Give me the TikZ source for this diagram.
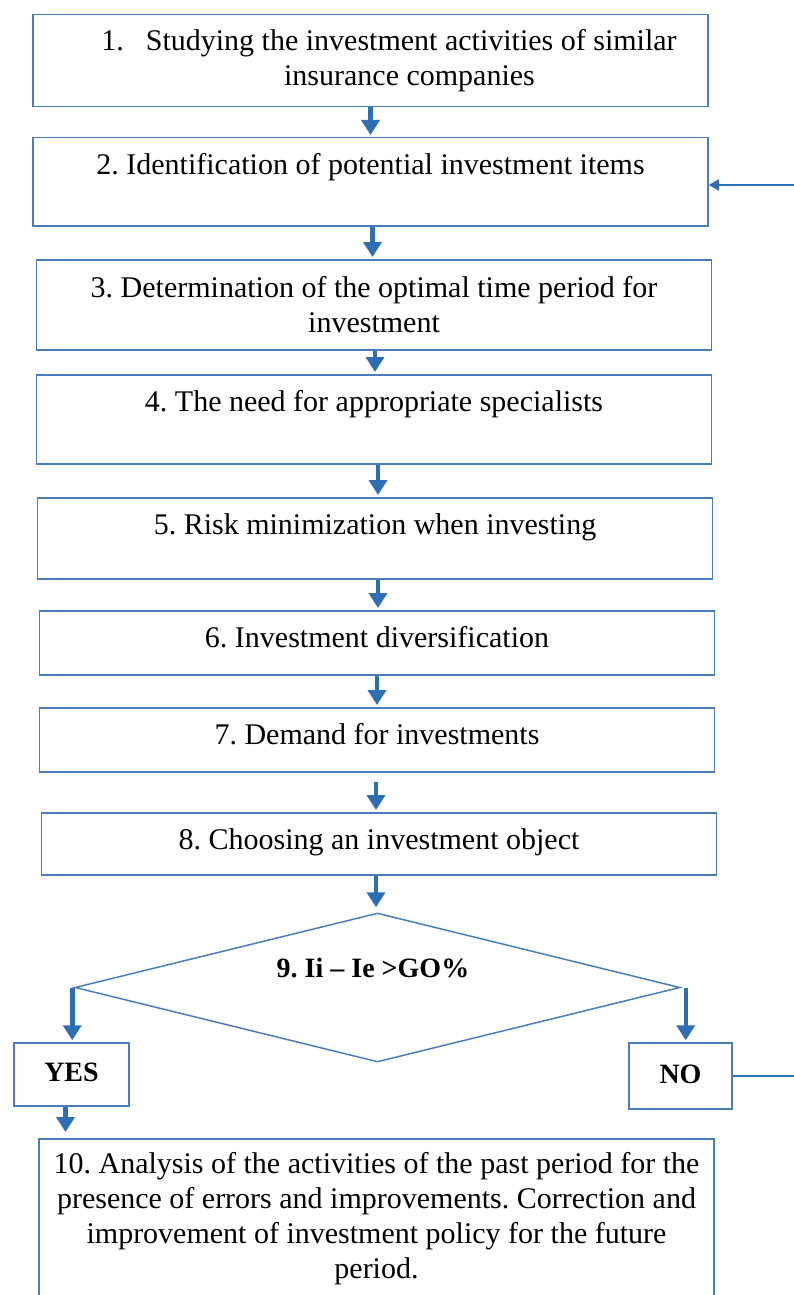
\documentclass[tikz,border=0pt]{standalone}
\usepackage{fontspec}
\setmainfont{Liberation Serif}
\usetikzlibrary{arrows.meta,shapes.geometric}
\frenchspacing
\begin{document}
\begin{tikzpicture}[x=1pt,y=-1pt,
  stepbox/.style={draw=boxblue,line width=1.5pt,rectangle,minimum width=675pt,
    align=center,anchor=north,font=\fontsize{30}{35}\selectfont},
  onebox/.style={stepbox,inner ysep=0pt,text height=37pt,text depth=#1},
  answer/.style={draw=boxblue,line width=1.5pt,rectangle,inner sep=0pt,
    font=\fontsize{28}{35}\selectfont\bfseries},
  flow/.style={draw=arrowblue,line width=4.5pt,shorten >=2pt,
    -{Triangle[width=18pt,length=15pt]}},
  back/.style={draw=arrowblue,line width=2pt}]
  \definecolor{boxblue}{HTML}{4A7DBA}
  \definecolor{arrowblue}{HTML}{2E6FB3}
  \useasboundingbox (0,0) rectangle (794,1295);
  \clip (0,0) rectangle (794,1295);
  % the ten steps
  \node [stepbox,minimum height=92pt] (b1) at (370.5,14)
    {\hspace*{37pt}1.\hspace{22pt}Studying the investment activities of similar\\
     \hspace*{78pt}insurance companies};
  \node [onebox=51pt] (b2) at (370.5,137) {2. Identification of potential investment items};
  \node [stepbox,minimum height=90pt] (b3) at (374,259)
    {3. Determination of the optimal time period for\\ investment};
  \node [onebox=52pt] (b4) at (374,374) {4. The need for appropriate specialists};
  \node [onebox=44pt] (b5) at (375,497) {5. Risk minimization when investing};
  \node [onebox=27pt] (b6) at (377,610) {6. Investment diversification};
  \node [onebox=27pt] (b7) at (377,707) {7. Demand for investments};
  \node [onebox=25pt] (b8) at (379,812) {8. Choosing an investment object};
  \node [diamond,draw=boxblue,line width=1.5pt,inner sep=0pt,
    minimum width=605pt,minimum height=149pt] (d9) at (377.5,987.5) {};
  \node [font=\fontsize{28}{35}\selectfont\bfseries] (d9t) at (373,968) {9. Ii – Ie >GO\%};
  \node [answer,minimum width=115pt,minimum height=63pt] (yes) at (71.5,1074.5)
    {\raisebox{5pt}{YES}};
  \node [answer,minimum width=103pt,minimum height=66pt] (no) at (680.5,1076)
    {\raisebox{3pt}{NO}};
  \node [stepbox,minimum height=160pt] (b10) at (376.5,1138)
    {10. Analysis of the activities of the past period for the\\
     presence of errors and improvements. Correction and\\
     improvement of investment policy for the future\\
     period.};
  \coordinate (loopin) at (794,185);
  \coordinate (loopout) at (794,1076);
  % arrows
  \draw [flow] (b1.south) -- (b1.south |- b2.north);
  \draw [flow] ([xshift=2pt]b2.south) -- ([xshift=2pt]b2.south |- b3.north);
  \draw [flow] ([xshift=1pt]b3.south) -- ([xshift=1pt]b3.south |- b4.north);
  \draw [flow] ([xshift=4pt]b4.south) -- ([xshift=4pt]b4.south |- b5.north);
  \draw [flow] ([xshift=3pt]b5.south) -- ([xshift=3pt]b5.south |- b6.north);
  \draw [flow] (b6.south) -- (b6.south |- b7.north);
  \draw [flow,shorten <=9pt] ([xshift=-1pt]b7.south) -- ([xshift=-1pt]b7.south |- b8.north);
  \draw [flow,shorten >=5pt] ([xshift=-3pt]b8.south) -- ([xshift=-3pt]b8.south |- d9.north);
  \draw [flow] ([xshift=-2pt]d9.west) -- ([xshift=-2pt]d9.west |- yes.north);
  \draw [flow] ([xshift=5pt]d9.east) -- ([xshift=5pt]d9.east |- no.north);
  \draw [flow,shorten >=6pt] ([xshift=-6pt]yes.south) -- ([xshift=-6pt]yes.south |- b10.north);
  \draw [back,-{Triangle[width=11pt,length=10pt]}] (loopin) -- (loopin -| b2.east);
  \draw [back,line width=1.5pt] (no.east) -- (no.east -| loopout);
\end{tikzpicture}
\end{document}
